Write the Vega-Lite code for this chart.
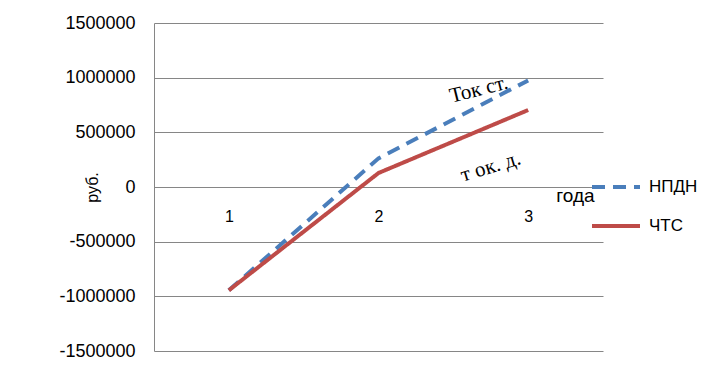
{
  "$schema": "https://vega.github.io/schema/vega-lite/v6.json",
  "width": 449,
  "height": 328,
  "autosize": {"type": "none"},
  "padding": {"left": 154, "top": 23, "right": 121, "bottom": 14},
  "background": "white",
  "config": {"view": {"stroke": null}, "font": "Liberation Sans"},
  "layer": [
    {
      "data": {"values": [
        {"year": 1, "value": -945000, "series": "НПДН"},
        {"year": 2, "value": 262000, "series": "НПДН"},
        {"year": 3, "value": 975000, "series": "НПДН"},
        {"year": 1, "value": -945000, "series": "ЧТС"},
        {"year": 2, "value": 128000, "series": "ЧТС"},
        {"year": 3, "value": 704000, "series": "ЧТС"}
      ]},
      "mark": {"type": "line", "strokeWidth": 4},
      "encoding": {
        "x": {"field": "year", "type": "quantitative", "scale": {"domain": [0.5, 3.5], "nice": false, "zero": false},
          "axis": {"values": [1, 2, 3], "format": "d", "orient": "bottom", "offset": -164, "domain": false, "ticks": false, "grid": false,
            "labelPadding": 21, "labelFontSize": 16, "labelColor": "black",
            "title": "года", "titleFontSize": 19, "titleFontWeight": "normal", "titleColor": "black", "titleX": 421, "titleY": 8, "titleBaseline": "middle", "titleAlign": "center"}},
        "y": {"field": "value", "type": "quantitative", "scale": {"domain": [-1500000, 1500000], "nice": false},
          "axis": {"title": "руб.", "values": [-1500000, -1000000, -500000, 0, 500000, 1000000, 1500000], "labelExpr": "'' + datum.value",
            "grid": true, "gridColor": "#868686", "domainColor": "#868686", "ticks": false, "labelPadding": 19, "labelFontSize": 18, "labelColor": "black",
            "titleFontSize": 16, "titleFontWeight": "normal", "titleColor": "black", "titleX": -62, "titleY": 164, "titleAngle": -90, "titleAlign": "center", "titleBaseline": "middle"}},
        "color": {"field": "series", "type": "nominal", "scale": {"domain": ["НПДН", "ЧТС"], "range": ["#4A7EBB", "#BE4B48"]},
          "legend": {"orient": "none", "legendX": 436, "legendY": 138, "title": null, "symbolType": "stroke", "symbolSize": 2304, "symbolStrokeWidth": 4, "labelFontSize": 17, "labelColor": "black", "labelOffset": 7, "rowPadding": 5}},
        "strokeDash": {"field": "series", "type": "nominal", "scale": {"domain": ["НПДН", "ЧТС"], "range": [[13, 8], [1, 0]]},
          "legend": {"orient": "none", "legendX": 436, "legendY": 138, "title": null, "symbolType": "stroke", "symbolSize": 2304, "symbolStrokeWidth": 4, "labelFontSize": 17, "labelColor": "black", "labelOffset": 7, "rowPadding": 5}}
      }
    },
    {
      "data": {"values": [{"x": 2.67, "y": 890000, "label": "Ток ст."}]},
      "mark": {"type": "text", "angle": -14, "font": "Liberation Serif", "fontSize": 21, "align": "center", "baseline": "middle", "color": "black"},
      "encoding": {"x": {"field": "x", "type": "quantitative"}, "y": {"field": "y", "type": "quantitative"}, "text": {"field": "label"}}
    },
    {
      "data": {"values": [{"x": 2.75, "y": 183000, "label": "т ок. д."}]},
      "mark": {"type": "text", "angle": -17, "font": "Liberation Serif", "fontSize": 21, "align": "center", "baseline": "middle", "color": "black"},
      "encoding": {"x": {"field": "x", "type": "quantitative"}, "y": {"field": "y", "type": "quantitative"}, "text": {"field": "label"}}
    }
  ]
}
